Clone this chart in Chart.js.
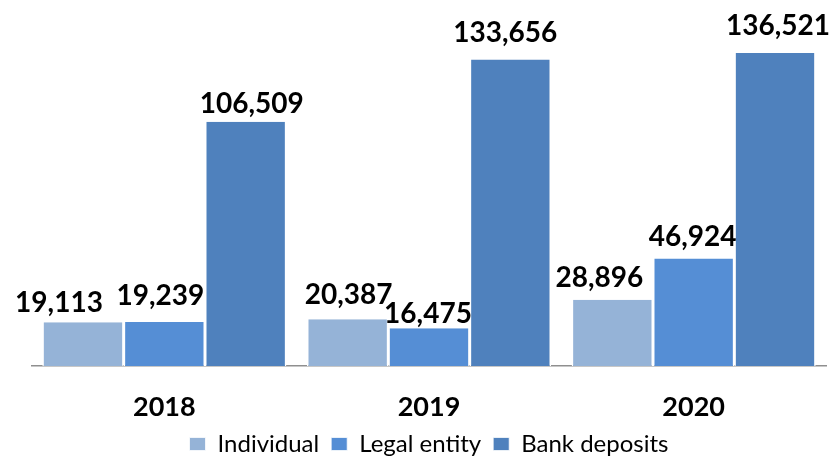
<!DOCTYPE html>
<html>
<head>
<meta charset="utf-8">
<script src="https://cdn.jsdelivr.net/npm/chart.js@4.4.1/dist/chart.umd.min.js"></script>
<style>
  html, body { margin: 0; padding: 0; background: #ffffff; }
  #wrap { width: 837px; height: 456px; position: relative; }
</style>
</head>
<body>
<div id="wrap"><canvas id="chart"></canvas></div>
<script>
// Deposits by year
const years = ['2018', '2019', '2020'];
const individual = [19113, 20387, 28896];
const legalEntity = [19239, 16475, 46924];
const bankDeposits = [106509, 133656, 136521];
const seriesNames = ['Individual', 'Legal entity', 'Bank deposits'];

// Hand-placed nudges for the value labels (pixels, [dx, dy]) per series and year
const labelNudges = [
  [[-24, 0], [1, -5], [-13, -3]],
  [[-4, -7], [-1, 5], [-1, -2]],
  [[6, 1], [-5, -8], [3, -8]]
];

const colors = ['#95B3D7', '#558ED5', '#4F81BD'];
const FONT = 'Lato, "Open Sans", sans-serif';

const valueLabels = {
  id: 'valueLabels',
  afterDatasetsDraw(chart) {
    const ctx = chart.ctx;
    ctx.save();
    ctx.font = 'bold 28px ' + FONT;
    ctx.fillStyle = '#000000';
    ctx.textAlign = 'center';
    ctx.textBaseline = 'alphabetic';
    chart.data.datasets.forEach((ds, di) => {
      const meta = chart.getDatasetMeta(di);
      meta.data.forEach((bar, i) => {
        const v = ds.data[i];
        const [dx, dy] = labelNudges[di][i];
        ctx.fillText(v.toLocaleString('en-US'), bar.x + dx, bar.y - 10 + dy);
      });
    });
    ctx.restore();
  }
};

const makeSet = (label, data, color) => ({
  label,
  data,
  backgroundColor: color,
  borderColor: '#ffffff',
  borderWidth: { left: 1.5, right: 1.5, top: 0, bottom: 0 },
  borderSkipped: false,
  barPercentage: 1,
  categoryPercentage: 0.922
});

new Chart(document.getElementById('chart'), {
  type: 'bar',
  data: {
    labels: years,
    datasets: [
      makeSet(seriesNames[0], individual, colors[0]),
      makeSet(seriesNames[1], legalEntity, colors[1]),
      makeSet(seriesNames[2], bankDeposits, colors[2])
    ]
  },
  options: {
    responsive: true,
    maintainAspectRatio: false,
    animation: false,
    layout: { padding: { left: 32, right: 11, top: 45, bottom: -10 } },
    scales: {
      x: {
        grid: { display: false, drawTicks: false },
        border: { display: true, color: '#8f8f8f', width: 1.5 },
        ticks: {
          color: '#000000',
          padding: 25,
          font: { family: FONT, size: 27, weight: 'bold' }
        },
        afterFit(scale) { scale.height = 54; }
      },
      y: {
        display: false,
        min: 0,
        max: 140000
      }
    },
    plugins: {
      legend: {
        position: 'bottom',
        labels: {
          color: '#000000',
          boxWidth: 16,
          boxHeight: 13,
          padding: 12,
          font: { family: FONT, size: 24 }
        }
      },
      tooltip: { enabled: false }
    }
  },
  plugins: [valueLabels]
});
</script>
</body>
</html>
